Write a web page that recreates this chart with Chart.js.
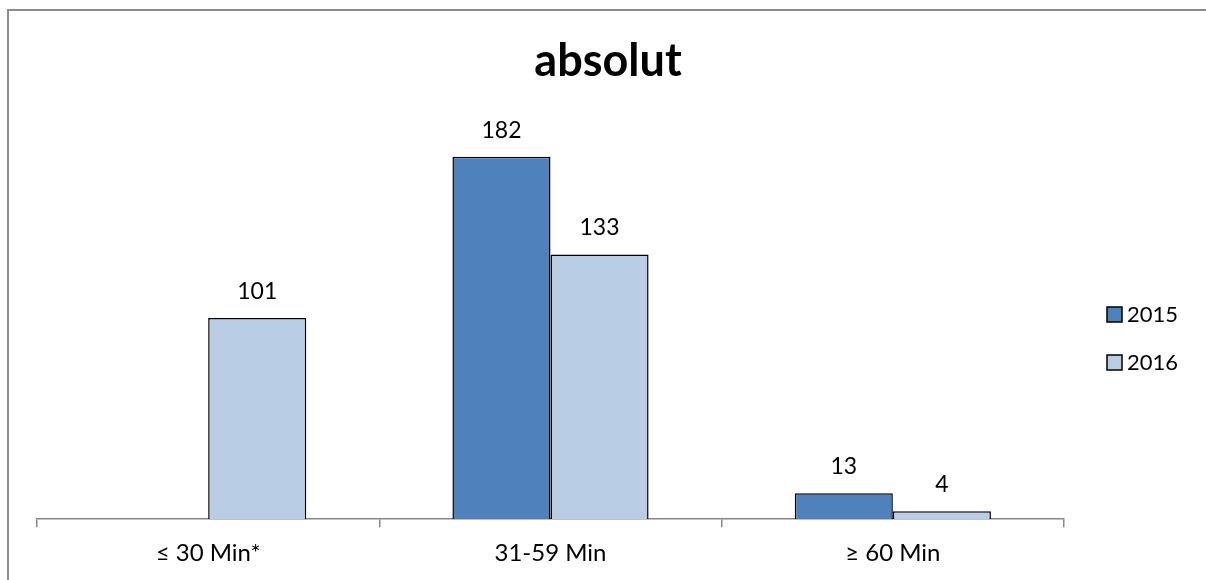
<!DOCTYPE html>
<html>
<head>
<meta charset="utf-8">
<script src="https://cdn.jsdelivr.net/npm/chart.js@4/dist/chart.umd.min.js"></script>
<style>
  html, body { margin: 0; padding: 0; background: #fff; }
  #wrap { position: relative; width: 1206px; height: 580px; }
</style>
</head>
<body>
<div id="wrap"><canvas id="barChart"></canvas></div>
<script>
const categories = ["≤ 30 Min*", "31-59 Min", "≥ 60 Min"];
const series2015 = [null, 182, 13];
const series2016 = [101, 133, 4];
const seriesNames = ["2015", "2016"];

const FONT = "Lato, 'DejaVu Sans', sans-serif";

// value above every bar
const valueLabels = {
    id: 'valueLabels',
    afterDatasetsDraw(chart) {
        const ctx = chart.ctx;
        ctx.save();
        ctx.font = "23px " + FONT;
        ctx.fillStyle = "#000";
        ctx.textAlign = "center";
        ctx.textBaseline = "alphabetic";
        chart.data.datasets.forEach((ds, i) => {
            chart.getDatasetMeta(i).data.forEach((bar, j) => {
                const v = ds.data[j];
                if (v === null) return;
                ctx.fillText(String(v), bar.x, bar.y - 19);
            });
        });
        ctx.restore();
    }
};

// legend on the right and the frame around the chart
const sideLegend = {
    id: 'sideLegend',
    afterDraw(chart) {
        const ctx = chart.ctx;
        ctx.save();
        chart.data.datasets.forEach((ds, i) => {
            const y = 307 + i * 48;
            ctx.fillStyle = ds.backgroundColor;
            ctx.fillRect(1107, y, 15, 15);
            ctx.lineWidth = 1.5;
            ctx.strokeStyle = "#000";
            ctx.strokeRect(1107, y, 15, 15);
            ctx.fillStyle = "#000";
            ctx.font = "22px " + FONT;
            ctx.textBaseline = "middle";
            ctx.textAlign = "left";
            ctx.fillText(ds.label, 1127, y + 8);
        });
        ctx.strokeStyle = "#8c8c8c";
        ctx.lineWidth = 2;
        ctx.beginPath();
        ctx.moveTo(8, 580);
        ctx.lineTo(8, 10);
        ctx.lineTo(1206, 10);
        ctx.stroke();
        ctx.restore();
    }
};

new Chart(document.getElementById("barChart"), {
    type: 'bar',
    data: {
        labels: categories,
        datasets: [
            {
                label: seriesNames[0],
                data: series2015,
                backgroundColor: '#4f81bd',
                borderColor: '#000',
                borderWidth: 1.5
            },
            {
                label: seriesNames[1],
                data: series2016,
                backgroundColor: '#b9cde5',
                borderColor: '#000',
                borderWidth: 1.5
            }
        ]
    },
    options: {
        responsive: true,
        maintainAspectRatio: false,
        animation: false,
        datasets: {
            bar: { categoryPercentage: 0.573, barPercentage: 1.0 }
        },
        layout: { padding: { left: 10, right: 0, top: 10, bottom: 0 } },
        plugins: {
            legend: { display: false },
            tooltip: { enabled: false },
            title: {
                display: true,
                text: 'absolut',
                color: '#000',
                font: { family: FONT, size: 45, weight: 'bold' },
                padding: { top: 24, bottom: 33 }
            }
        },
        scales: {
            x: {
                grid: {
                    drawOnChartArea: false,
                    drawTicks: true,
                    tickLength: 8,
                    color: '#868686',
                    lineWidth: 1.5
                },
                border: { color: '#868686', width: 1.5 },
                ticks: {
                    color: '#000',
                    padding: 12,
                    font: { family: FONT, size: 24 }
                }
            },
            y: {
                display: true,
                min: 0,
                max: 200,
                grid: { display: false },
                border: { display: false },
                ticks: { display: false },
                afterFit(scale) { scale.width = 27; }
            },
            side: {
                type: 'linear',
                position: 'right',
                display: true,
                grid: { display: false },
                border: { display: false },
                ticks: { display: false },
                afterFit(scale) { scale.width = 142; }
            }
        }
    },
    plugins: [valueLabels, sideLegend]
});
</script>
</body>
</html>
